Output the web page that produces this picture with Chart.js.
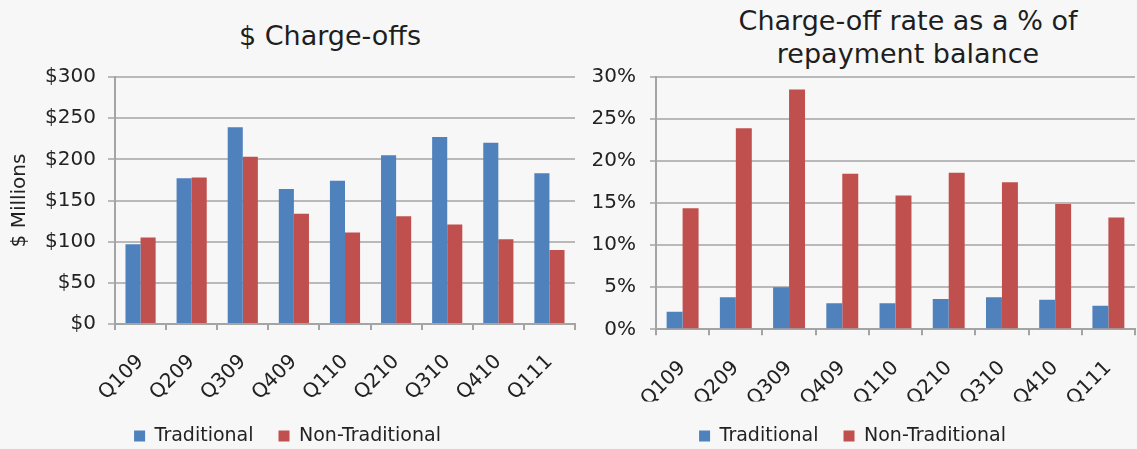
<!DOCTYPE html>
<html>
<head>
<meta charset="utf-8">
<title>Charge-offs</title>
<script src="https://cdn.jsdelivr.net/npm/chart.js@4/dist/chart.umd.min.js"></script>
<style>
  body {
    margin: 0;
    width: 1137px;
    height: 449px;
    overflow: hidden;
    position: relative;
    background: #f7f7f7;
    font-family: "DejaVu Sans", Verdana, sans-serif;
  }
  .panel { position: absolute; top: 0; height: 449px; }
  .heading {
    position: absolute;
    text-align: center;
    font-size: 27px;
    line-height: 33px;
    color: #1e1e1e;
    white-space: nowrap;
  }
</style>
</head>
<body>
<div class="heading" style="left:130px; top:19px; width:400px;">$ Charge-offs</div>
<div class="heading" style="left:658px; top:4px; width:500px;">Charge-off rate as a % of<br>repayment balance</div>
<div class="panel" style="left:0; width:585px;"><canvas id="chargeChart" width="585" height="449"></canvas></div>
<div class="panel" style="left:570px; width:566px;"><canvas id="rateChart" width="566" height="449"></canvas></div>

<script>
// quarterly figures
const quarters = ["Q109", "Q209", "Q309", "Q409", "Q110", "Q210", "Q310", "Q410", "Q111"];
const seriesNames = ["Traditional", "Non-Traditional"];

// $ millions charged off
const chargeTraditional = [97, 177, 239, 164, 174, 205, 227, 220, 183];
const chargeNonTraditional = [105, 178, 203, 134, 111, 131, 121, 103, 90];
const chargeTicks = [0, 50, 100, 150, 200, 250, 300];

// charge-off rate, % of repayment balance
const rateTraditional = [2.1, 3.8, 5.0, 3.1, 3.1, 3.6, 3.8, 3.5, 2.8];
const rateNonTraditional = [14.4, 23.9, 28.5, 18.5, 15.9, 18.6, 17.5, 14.9, 13.3];
const rateTicks = [0, 5, 10, 15, 20, 25, 30];

const BLUE = "#4F81BD";
const RED = "#C0504D";
const TEXT = "#222222";
const GRID = "#b9b9b9";
const AXIS = "#a4a4a4";

Chart.defaults.font.family = '"DejaVu Sans", Verdana, sans-serif';
Chart.defaults.color = TEXT;

function buildChart(id, opts) {
  const ctx = document.getElementById(id).getContext("2d");
  return new Chart(ctx, {
    type: "bar",
    data: {
      labels: quarters,
      datasets: [
        { label: seriesNames[0], data: opts.first, backgroundColor: BLUE, borderWidth: 0 },
        { label: seriesNames[1], data: opts.second, backgroundColor: RED, borderWidth: 0 }
      ]
    },
    options: {
      responsive: false,
      animation: false,
      devicePixelRatio: 1,
      datasets: { bar: { categoryPercentage: opts.groupWidth, barPercentage: 1 } },
      layout: { padding: opts.padding },
      plugins: {
        title: { display: false },
        tooltip: { enabled: false },
        legend: {
          position: "bottom",
          labels: { boxWidth: 11, boxHeight: 11, padding: 25, font: { size: 19 }, color: TEXT }
        }
      },
      scales: {
        x: {
          grid: { offset: true, drawOnChartArea: false, color: AXIS, lineWidth: 2, tickLength: 6 },
          border: { color: AXIS, width: 2 },
          ticks: {
            autoSkip: false, minRotation: 45, maxRotation: 45,
            padding: opts.xPad, font: { size: 20 }, color: TEXT
          },
          // rotated labels end at their tick, so no side padding is needed
          afterFit: s => { s.height = opts.xHeight; s.paddingLeft = 0; s.paddingRight = 0; }
        },
        y: {
          min: opts.ticks[0],
          max: opts.ticks[opts.ticks.length - 1],
          afterBuildTicks: s => { s.ticks = opts.ticks.map(v => ({ value: v })); },
          grid: { color: GRID, lineWidth: 2, tickLength: opts.yTick },
          border: { color: AXIS, width: 2 },
          ticks: { callback: opts.format, padding: opts.yPad, font: { size: 20 }, color: TEXT },
          title: opts.yTitle,
          afterFit: s => { s.width = opts.yWidth; }
        }
      }
    }
  });
}

buildChart("chargeChart", {
  first: chargeTraditional,
  second: chargeNonTraditional,
  ticks: chargeTicks,
  format: v => "$" + v,
  groupWidth: 0.59,
  padding: { top: 77, right: 10, bottom: -6.5, left: 0 },
  xHeight: 77.5,
  xPad: 20,
  yWidth: 115,
  yTick: 7,
  yPad: 12,
  yTitle: { display: true, text: "$ Millions", font: { size: 20 }, color: TEXT, padding: { top: 8, bottom: 0 } }
});

buildChart("rateChart", {
  first: rateTraditional,
  second: rateNonTraditional,
  ticks: rateTicks,
  format: v => v + "%",
  groupWidth: 0.6,
  padding: { top: 77, right: 1, bottom: -6.5, left: 0 },
  xHeight: 72.2,
  xPad: 21,
  yWidth: 86,
  yTick: 6,
  yPad: 14,
  yTitle: { display: false }
});
</script>
</body>
</html>
